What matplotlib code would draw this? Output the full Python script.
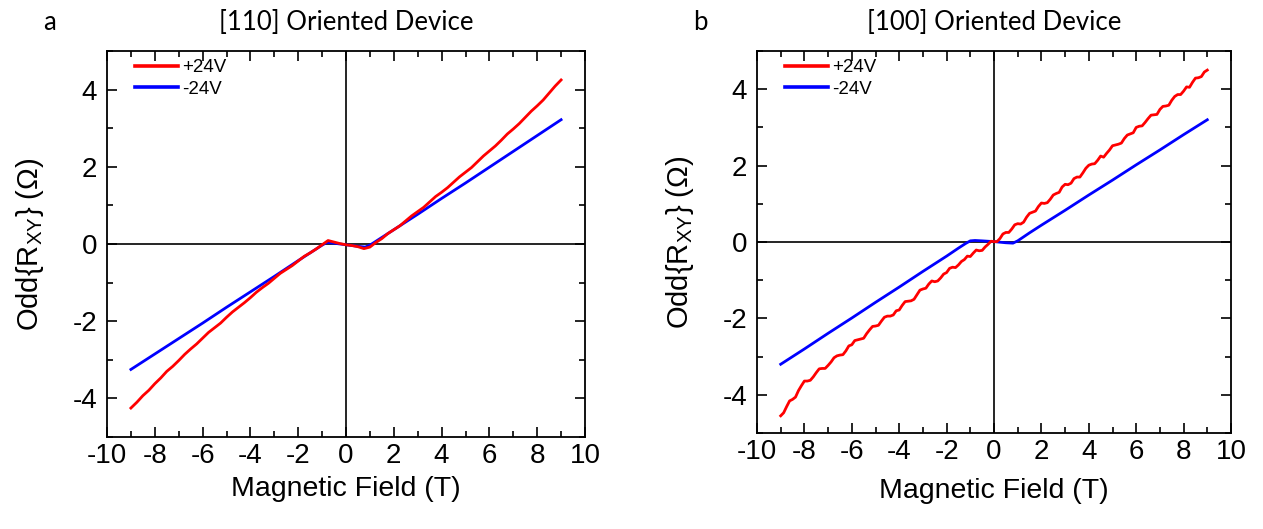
import matplotlib
matplotlib.use("Agg")
import matplotlib.pyplot as plt
from matplotlib.ticker import MultipleLocator

plt.rcParams["font.family"] = ["Liberation Sans", "DejaVu Sans"]
plt.rcParams["mathtext.fontset"] = "custom"
plt.rcParams["mathtext.rm"] = "Liberation Sans"
plt.rcParams["mathtext.it"] = "Liberation Sans"
plt.rcParams["axes.unicode_minus"] = False

# ---- [110] oriented device ----
field_110_pos = [-9.0, -8.75, -8.5, -8.25, -8.0, -7.75, -7.5, -7.25, -7.0, -6.75, -6.5,
                 -6.25, -6.0, -5.75, -5.5, -5.25, -5.0, -4.75, -4.5, -4.25, -4.0, -3.75,
                 -3.5, -3.25, -3.0, -2.75, -2.5, -2.25, -2.0, -1.75, -1.5, -1.25, -1.0,
                 -0.75, -0.5, -0.25, 0.0, 0.25, 0.5, 0.75, 1.0, 1.25, 1.5, 1.75, 2.0,
                 2.25, 2.5, 2.75, 3.0, 3.25, 3.5, 3.75, 4.0, 4.25, 4.5, 4.75, 5.0, 5.25,
                 5.5, 5.75, 6.0, 6.25, 6.5, 6.75, 7.0, 7.25, 7.5, 7.75, 8.0, 8.25, 8.5,
                 8.75, 9.0]
odd_110_pos = [-4.25, -4.10, -3.93, -3.79, -3.62, -3.47, -3.30, -3.17, -3.02, -2.86, -2.72,
               -2.59, -2.44, -2.29, -2.17, -2.05, -1.90, -1.76, -1.64, -1.52, -1.39, -1.25,
               -1.13, -1.02, -0.89, -0.76, -0.66, -0.56, -0.44, -0.32, -0.23, -0.13, -0.02,
               0.09, 0.05, 0.01, -0.02, -0.04, -0.07, -0.12, -0.08, 0.04, 0.14, 0.27, 0.37,
               0.47, 0.60, 0.73, 0.84, 0.95, 1.09, 1.23, 1.34, 1.46, 1.60, 1.74, 1.86, 1.98,
               2.13, 2.28, 2.41, 2.54, 2.69, 2.85, 2.98, 3.12, 3.28, 3.44, 3.58, 3.73, 3.91,
               4.09, 4.25]

field_110_neg = [-9.0, -8.0, -7.0, -6.0, -5.0, -4.0, -3.0, -2.0, -1.5, -1.0, -0.8, -0.5,
                 0.0, 0.5, 0.8, 1.0, 1.5, 2.0, 3.0, 4.0, 5.0, 6.0, 7.0, 8.0, 9.0]
odd_110_neg = [-3.25, -2.85, -2.45, -2.05, -1.64, -1.24, -0.84, -0.43, -0.23, -0.03, 0.04, 0.02,
               -0.02, -0.06, -0.08, -0.03, 0.17, 0.37, 0.77, 1.18, 1.58, 1.99, 2.40, 2.81, 3.22]

# ---- [100] oriented device ----
field_100_pos = [
    -9.0, -8.875, -8.75, -8.625, -8.5, -8.375, -8.25, -8.125, -8.0, -7.875,
    -7.75, -7.625, -7.5, -7.375, -7.25, -7.125, -7.0, -6.875, -6.75, -6.625,
    -6.5, -6.375, -6.25, -6.125, -6.0, -5.875, -5.75, -5.625, -5.5, -5.375,
    -5.25, -5.125, -5.0, -4.875, -4.75, -4.625, -4.5, -4.375, -4.25, -4.125,
    -4.0, -3.875, -3.75, -3.625, -3.5, -3.375, -3.25, -3.125, -3.0, -2.875,
    -2.75, -2.625, -2.5, -2.375, -2.25, -2.125, -2.0, -1.875, -1.75, -1.625,
    -1.5, -1.375, -1.25, -1.125, -1.0, -0.875, -0.75, -0.625, -0.5, -0.375,
    -0.25, -0.125, 0.0, 0.125, 0.25, 0.375, 0.5, 0.625, 0.75, 0.875,
    1.0, 1.125, 1.25, 1.375, 1.5, 1.625, 1.75, 1.875, 2.0, 2.125,
    2.25, 2.375, 2.5, 2.625, 2.75, 2.875, 3.0, 3.125, 3.25, 3.375,
    3.5, 3.625, 3.75, 3.875, 4.0, 4.125, 4.25, 4.375, 4.5, 4.625,
    4.75, 4.875, 5.0, 5.125, 5.25, 5.375, 5.5, 5.625, 5.75, 5.875,
    6.0, 6.125, 6.25, 6.375, 6.5, 6.625, 6.75, 6.875, 7.0, 7.125,
    7.25, 7.375, 7.5, 7.625, 7.75, 7.875, 8.0, 8.125, 8.25, 8.375,
    8.5, 8.625, 8.75, 8.875, 9.0]
odd_100_pos = [
    -4.55, -4.47, -4.31, -4.16, -4.12, -4.06, -3.89, -3.76, -3.64, -3.64,
    -3.62, -3.53, -3.42, -3.32, -3.31, -3.31, -3.23, -3.14, -3.03, -2.98,
    -2.96, -2.95, -2.85, -2.72, -2.69, -2.58, -2.56, -2.54, -2.52, -2.40,
    -2.30, -2.21, -2.20, -2.18, -2.07, -1.97, -1.94, -1.94, -1.91, -1.80,
    -1.78, -1.66, -1.56, -1.55, -1.54, -1.50, -1.38, -1.26, -1.23, -1.21,
    -1.10, -1.02, -1.04, -1.02, -0.94, -0.84, -0.80, -0.69, -0.66, -0.67,
    -0.60, -0.51, -0.46, -0.37, -0.38, -0.29, -0.21, -0.23, -0.22, -0.13,
    -0.06, 0.02, 0.01, 0.01, 0.09, 0.21, 0.25, 0.25, 0.34, 0.45,
    0.48, 0.47, 0.52, 0.65, 0.75, 0.78, 0.81, 0.93, 1.02, 1.01,
    1.03, 1.12, 1.23, 1.27, 1.30, 1.44, 1.51, 1.50, 1.54, 1.66,
    1.70, 1.70, 1.81, 1.93, 2.01, 2.04, 2.05, 2.14, 2.25, 2.22,
    2.32, 2.41, 2.52, 2.54, 2.56, 2.59, 2.71, 2.80, 2.83, 2.86,
    3.00, 3.03, 3.04, 3.13, 3.23, 3.32, 3.33, 3.34, 3.47, 3.55,
    3.56, 3.58, 3.71, 3.81, 3.86, 3.86, 3.95, 4.06, 4.05, 4.18,
    4.29, 4.30, 4.33, 4.45, 4.50]

field_100_neg = [-9.0, -8.0, -7.0, -6.0, -5.0, -4.0, -3.0, -2.0, -1.5, -1.2, -1.0, -0.8,
                 -0.5, 0.0, 0.5, 0.8, 1.0, 1.5, 2.0, 3.0, 4.0, 5.0, 6.0, 7.0, 8.0, 9.0]
odd_100_neg = [-3.20, -2.80, -2.39, -1.99, -1.58, -1.18, -0.77, -0.37, -0.16, -0.04, 0.03, 0.04,
               0.03, 0.01, -0.02, -0.03, 0.03, 0.24, 0.44, 0.83, 1.23, 1.62, 2.02, 2.41, 2.81, 3.20]

titles = ["[110] Oriented Device", "[100] Oriented Device"]
panel_tags = ["a", "b"]
x_ticks = [-10, -8, -6, -4, -2, 0, 2, 4, 6, 8, 10]
y_ticks = [-4, -2, 0, 2, 4]

W, H = 1263, 529
fig = plt.figure(figsize=(W / 100, H / 100), dpi=100)

boxes = [(107, 51, 585, 437), (757, 51, 1231, 433)]
series = [
    (field_110_pos, odd_110_pos, field_110_neg, odd_110_neg),
    (field_100_pos, odd_100_pos, field_100_neg, odd_100_neg),
]
tag_x = [50, 700]
ylabel_x = [30, 680]
xlabel_y = [489, 491]

for i, ((x0, y0, x1, y1), (fp, op, fn, on)) in enumerate(zip(boxes, series)):
    aw, ah = x1 - x0, y1 - y0
    ax = fig.add_axes([x0 / W, 1 - y1 / H, aw / W, ah / H])
    ax.axhline(0, color="black", lw=1.2, zorder=1)
    ax.axvline(0, color="black", lw=1.2, zorder=1)
    ax.plot(fp, op, color="#ff0000", lw=2.0, label="+24V", zorder=3)
    ax.plot(fn, on, color="#0000ff", lw=2.0, label="-24V", zorder=2)
    ax.set_xlim(-10, 10)
    ax.set_ylim(-5, 5)
    ax.set_xticks(x_ticks)
    ax.set_yticks(y_ticks)
    ax.xaxis.set_minor_locator(MultipleLocator(1))
    ax.yaxis.set_minor_locator(MultipleLocator(1))
    ax.tick_params(which="both", direction="in", top=True, right=True,
                   width=1.2, labelsize=20, pad=7)
    ax.tick_params(axis="x", which="major", pad=4)
    ax.tick_params(which="major", length=7)
    ax.tick_params(which="minor", length=4)
    for sp in ax.spines.values():
        sp.set_linewidth(1.3)
    ax.set_xlabel("Magnetic Field (T)", fontsize=20.5)
    ax.xaxis.label.set_verticalalignment("center")
    ax.xaxis.set_label_coords(0.5, (y1 - xlabel_y[i]) / ah)
    ax.set_ylabel("Odd{R$_{\\mathrm{XY}}$} (\u03a9)", fontsize=21)
    ax.yaxis.label.set_verticalalignment("center")
    ax.yaxis.set_label_coords((ylabel_x[i] - x0) / aw, 0.5)
    leg = ax.legend(loc="upper left", frameon=False, fontsize=13.5,
                    handlelength=2.3, handletextpad=0.2, labelspacing=0.25,
                    borderpad=0, borderaxespad=0,
                    bbox_to_anchor=(28 / aw, (y1 - 59) / ah))
    for h in leg.get_lines():
        h.set_linewidth(2.6)
    cx = (x0 + x1) / 2 / W
    fig.text(cx, 1 - 23 / H, titles[i], ha="center", va="center",
             fontsize=18.5, family=["Lato", "DejaVu Sans"])
    fig.text(tag_x[i] / W, 1 - 23 / H, panel_tags[i], ha="center",
             va="center", fontsize=18.5, family=["Lato", "DejaVu Sans"])

fig.savefig("out.png", dpi=100)
